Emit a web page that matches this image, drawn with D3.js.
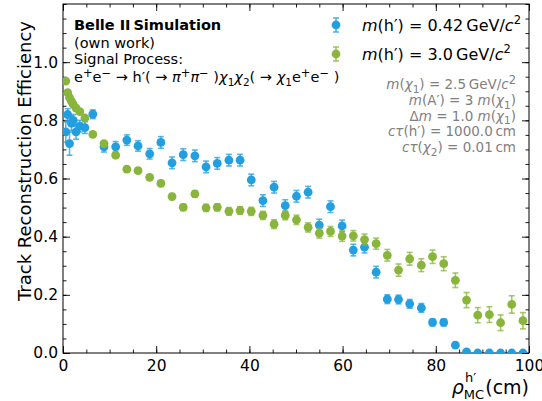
<!DOCTYPE html>
<html>
<head>
<meta charset="utf-8">
<script src="https://cdn.jsdelivr.net/npm/d3@7"></script>
<style>
  body { margin: 0; background: #fff; }
  svg text { font-family: "DejaVu Sans", sans-serif; }
</style>
</head>
<body>
<svg id="chart" width="542" height="401"></svg>
<script>
// bin centres of rho_MC(h') in cm
const rho = [0.6, 1.0, 1.4, 1.8, 2.2, 2.8, 3.6, 4.7,
  6.4, 8.8, 11.3, 13.7, 16.1, 18.6, 21.0, 23.4, 25.8, 28.3,
  30.7, 33.1, 35.6, 38.0, 40.4, 42.9, 45.3, 47.7, 50.1, 52.6,
  55.0, 57.4, 59.9, 62.3, 64.7, 67.2, 69.6, 72.0, 74.4, 76.9,
  79.3, 81.7, 84.2, 86.6, 89.0, 91.5, 93.9, 96.3, 98.7];

// m(h') = 0.42 GeV/c^2
const effLight = [0.76, 0.82, 0.72, 0.79, 0.80, 0.76, 0.78, 0.775,
  0.821, 0.709, 0.709, 0.732, 0.712, 0.685, 0.724, 0.654, 0.682, 0.678,
  0.640, 0.652, 0.663, 0.663, 0.595, 0.524, 0.570, 0.507, 0.539, 0.553,
  0.440, 0.503, 0.437, 0.354, 0.364, 0.278, 0.185, 0.184, 0.169, 0.155,
  0.105, 0.105, 0.027, 0.004, 0, 0, 0, 0, 0];
const errLight = [0.035, 0.02, 0.04, 0.025, 0.02, 0.025, 0.02, 0.02,
  0.015, 0.018, 0.018, 0.018, 0.018, 0.018, 0.02, 0.02, 0.02, 0.02,
  0.02, 0.02, 0.02, 0.02, 0.02, 0.02, 0.02, 0.02, 0.02, 0.02,
  0.02, 0.02, 0.02, 0.02, 0.02, 0.02, 0.015, 0.015, 0.015, 0.015,
  0.012, 0.012, 0.005, 0, 0, 0, 0, 0, 0];

// m(h') = 3.0 GeV/c^2
const effHeavy = [0.935, 0.895, 0.878, 0.866, 0.855, 0.842, 0.830, 0.808,
  0.752, 0.720, 0.680, 0.632, 0.627, 0.604, 0.583, 0.538, 0.501, 0.547,
  0.499, 0.501, 0.487, 0.490, 0.487, 0.473, 0.443, 0.473, 0.458, 0.432,
  0.412, 0.418, 0.402, 0.403, 0.390, 0.376, 0.336, 0.285, 0.324, 0.302,
  0.331, 0.307, 0.250, 0.182, 0.130, 0.132, 0.104, 0.167, 0.111];
const errHeavy = [0.004, 0.004, 0.004, 0.004, 0.004, 0.004, 0.005, 0.005,
  0.006, 0.007, 0.008, 0.008, 0.009, 0.009, 0.01, 0.01, 0.011, 0.011,
  0.012, 0.012, 0.013, 0.013, 0.014, 0.014, 0.015, 0.015, 0.016, 0.016,
  0.017, 0.017, 0.018, 0.018, 0.019, 0.019, 0.02, 0.021, 0.022, 0.022,
  0.023, 0.024, 0.025, 0.026, 0.026, 0.027, 0.027, 0.03, 0.028];

const xMajor = [0, 20, 40, 60, 80, 100];
const yMajor = [0, 0.2, 0.4, 0.6, 0.8, 1.0];

const colLight = "#239fdf", colHeavy = "#8ab53c";

const width = 542, height = 401;
const margin = {top: 4, right: 13, bottom: 48, left: 63};
const iw = width - margin.left - margin.right;
const ih = height - margin.top - margin.bottom;

const svg = d3.select("#chart");
const g = svg.append("g").attr("transform", `translate(${margin.left},${margin.top})`);

const x = d3.scaleLinear().domain([0, 100]).range([0, iw]);
const y = d3.scaleLinear().domain([0, 1.2]).range([ih, 0]);

const xMinor = d3.range(0, 101, 5);
const yMinor = d3.range(0, 1.2001, 0.05).map(v => +v.toFixed(2));

// axes, ticks pointing inwards on all four sides
const fmtY = d3.format(".1f");
const styleAxis = sel => {
    sel.select(".domain").remove();
    sel.selectAll("line").attr("stroke", "#000").attr("stroke-width", 0.9);
    sel.selectAll("text").attr("fill", "#000").style("font-size", "15.5px")
        .style("font-family", "DejaVu Sans, sans-serif");
};

g.append("g").attr("transform", `translate(0,${ih})`)
    .call(d3.axisBottom(x).tickValues(xMinor).tickSize(-3.5).tickFormat(""))
    .call(styleAxis);
g.append("g").attr("transform", `translate(0,${ih})`)
    .call(d3.axisBottom(x).tickValues(xMajor).tickSize(-7).tickPadding(7).tickFormat(d3.format("d")))
    .call(styleAxis);
g.append("g")
    .call(d3.axisTop(x).tickValues(xMinor).tickSize(-3.5).tickFormat(""))
    .call(styleAxis);
g.append("g")
    .call(d3.axisTop(x).tickValues(xMajor).tickSize(-7).tickFormat(""))
    .call(styleAxis);

g.append("g")
    .call(d3.axisLeft(y).tickValues(yMinor).tickSize(-3.5).tickFormat(""))
    .call(styleAxis);
g.append("g")
    .call(d3.axisLeft(y).tickValues(yMajor).tickSize(-7).tickPadding(5).tickFormat(fmtY))
    .call(styleAxis);
g.append("g").attr("transform", `translate(${iw},0)`)
    .call(d3.axisRight(y).tickValues(yMinor).tickSize(-3.5).tickFormat(""))
    .call(styleAxis);
g.append("g").attr("transform", `translate(${iw},0)`)
    .call(d3.axisRight(y).tickValues(yMajor).tickSize(-7).tickFormat(""))
    .call(styleAxis);

g.append("rect").attr("width", iw).attr("height", ih)
    .attr("fill", "none").attr("stroke", "#000").attr("stroke-width", 1);

// data, clipped to the axes box
svg.append("defs").append("clipPath").attr("id", "clip")
    .append("rect").attr("width", iw).attr("height", ih);
const plot = g.append("g").attr("clip-path", "url(#clip)");

const series = [
    {eff: effLight, err: errLight, color: colLight},
    {eff: effHeavy, err: errHeavy, color: colHeavy}
];

series.forEach(s => {
    const pts = rho.map((r, i) => ({r, e: s.eff[i], u: s.err[i]}));
    const eg = plot.append("g").attr("stroke", s.color).attr("stroke-opacity", 0.75).attr("stroke-width", 1.6);
    pts.filter(d => d.u > 0).forEach(d => {
        eg.append("line")
            .attr("x1", x(d.r)).attr("x2", x(d.r))
            .attr("y1", y(d.e - d.u)).attr("y2", y(d.e + d.u));
        [d.e - d.u, d.e + d.u].forEach(v => {
            eg.append("line")
                .attr("x1", x(d.r) - 3).attr("x2", x(d.r) + 3)
                .attr("y1", y(v)).attr("y2", y(v));
        });
    });
    plot.append("g").selectAll("circle").data(pts).join("circle")
        .attr("cx", d => x(d.r))
        .attr("cy", d => y(d.e))
        .attr("r", 4.4)
        .attr("fill", s.color);
});

// legend
const legend = [
    {color: colLight, label: "0.42"},
    {color: colHeavy, label: "3.0"}
];
legend.forEach((l, i) => {
    const ly = 25 + i * 29;
    const lg = svg.append("g").attr("transform", `translate(336,${ly})`);
    lg.append("line").attr("y1", -7).attr("y2", 7)
        .attr("stroke", l.color).attr("stroke-opacity", 0.75).attr("stroke-width", 1.6);
    [-7, 7].forEach(v => lg.append("line").attr("x1", -3).attr("x2", 3).attr("y1", v).attr("y2", v)
        .attr("stroke", l.color).attr("stroke-opacity", 0.75).attr("stroke-width", 1.6));
    lg.append("circle").attr("r", 4.4).attr("fill", l.color);
    const t = lg.append("text").attr("x", 26).attr("y", 5.5).style("font-size", "16px");
    t.append("tspan").style("font-style", "italic").text("m");
    t.append("tspan").text(`(h\u2032) = ${l.label}\u2009GeV/`);
    t.append("tspan").style("font-style", "italic").text("c");
    t.append("tspan").attr("dy", -6.5).style("font-size", "11.5px").text("2");
});

// Belle II label block
const info = svg.append("g").attr("transform", "translate(74,0)").style("font-size", "14.5px");
info.append("text").attr("y", 30).style("font-weight", "bold").text("Belle II\u2009Simulation");
info.append("text").attr("y", 47.5).text("(own work)");
info.append("text").attr("y", 64).text("Signal Process:");
const f = info.append("text").attr("y", 82);
const sup = (sel, s) => sel.append("tspan").attr("dy", -5.5).style("font-size", "11.5px").text(s);
const sub = (sel, s) => sel.append("tspan").attr("dy", 3.5).style("font-size", "10.5px").text(s);
const norm = (sel, s, dy) => sel.append("tspan").attr("dy", dy).text(s);
const ital = (sel, s, dy) => sel.append("tspan").attr("dy", dy).style("font-style", "italic").text(s);
norm(f, "e", 0); sup(f, "+"); norm(f, "e", 5.5); sup(f, "\u2212");
norm(f, " \u2192 h\u2032( \u2192 ", 5.5); ital(f, "\u03c0", 0); sup(f, "+");
ital(f, "\u03c0", 5.5); sup(f, "\u2212"); norm(f, " )", 5.5);
ital(f, "\u03c7", 0); sub(f, "1"); ital(f, "\u03c7", -3.5); sub(f, "2");
norm(f, "( \u2192 ", -3.5); ital(f, "\u03c7", 0); sub(f, "1");
norm(f, "e", -3.5); sup(f, "+"); norm(f, "e", 5.5); sup(f, "\u2212"); norm(f, " )", 5.5);

// model parameters, grey, right aligned
const params = svg.append("g").style("font-size", "13.5px").attr("fill", "#808080");
const pline = (yy, build) => {
    const t = params.append("text").attr("x", 516).attr("y", yy).attr("text-anchor", "end");
    build(t);
};
pline(89, t => { ital(t, "m", 0); norm(t, "(", 0); ital(t, "\u03c7", 0); sub(t, "1");
    norm(t, ") = 2.5\u2009GeV/", -3.5); ital(t, "c", 0); sup(t, "2"); });
pline(105, t => { ital(t, "m", 0); norm(t, "(A\u2032) = 3 ", 0); ital(t, "m", 0); norm(t, "(", 0);
    ital(t, "\u03c7", 0); sub(t, "1"); norm(t, ")", -3.5); });
pline(120.5, t => { norm(t, "\u0394", 0); ital(t, "m", 0); norm(t, " = 1.0 ", 0); ital(t, "m", 0);
    norm(t, "(", 0); ital(t, "\u03c7", 0); sub(t, "1"); norm(t, ")", -3.5); });
pline(136, t => { ital(t, "c\u03c4", 0); norm(t, "(h\u2032) = 1000.0\u2009cm", 0); });
pline(152, t => { ital(t, "c\u03c4", 0); norm(t, "(", 0); ital(t, "\u03c7", 0); sub(t, "2");
    norm(t, ") = 0.01\u2009cm", -3.5); });

// axis titles
const xl = svg.append("text").attr("x", margin.left + iw).attr("y", 394)
    .attr("text-anchor", "end").style("font-size", "19px");
ital(xl, "\u03c1", 0);
xl.append("tspan").attr("dy", 5).style("font-size", "13px").text("MC");
xl.append("tspan").attr("dx", -19).attr("dy", -17).style("font-size", "13px").text("h\u2032");
xl.append("tspan").attr("dx", 9).attr("dy", 12).text("(cm)");

svg.append("text")
    .attr("transform", "translate(31,161) rotate(-90)")
    .attr("text-anchor", "middle")
    .style("font-size", "18px")
    .text("Track Reconstruction Efficiency");
</script>
</body>
</html>
